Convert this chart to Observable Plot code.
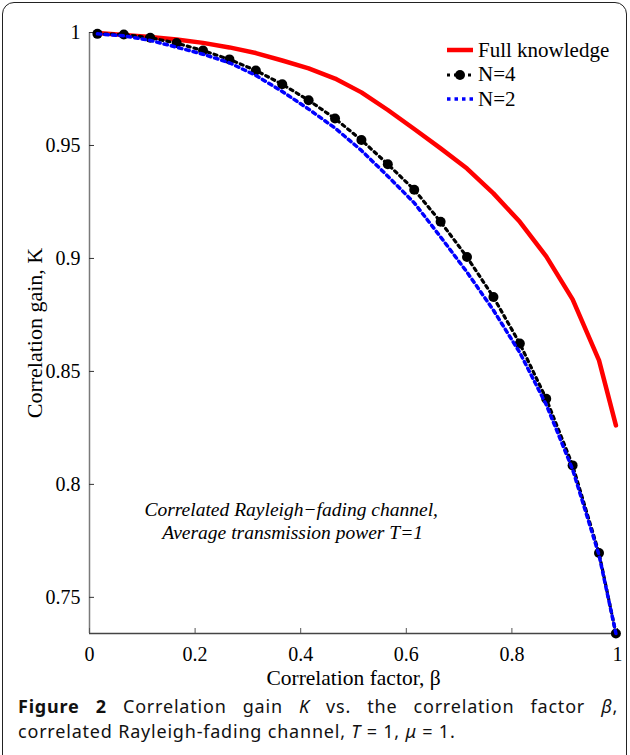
<!DOCTYPE html>
<html><head><meta charset="utf-8">
<script src="https://cdn.jsdelivr.net/npm/d3@7"></script>
<script src="https://cdn.jsdelivr.net/npm/@observablehq/plot@0.6"></script>
<style>
body{margin:0;background:#fff;}
#wrap{position:relative;width:630px;height:755px;overflow:hidden;background:#fff;}
#border{position:absolute;left:2px;top:2px;width:625px;height:770px;border:1.5px solid #222;border-radius:12px;box-sizing:border-box;}
#chart{position:absolute;left:0;top:0;}
#legend{position:absolute;left:447px;top:38px;font-family:"Liberation Serif",serif;font-size:21px;color:#000;}
#legend .row{display:flex;align-items:center;height:24.5px;}
#legend svg{margin-right:5px;}
.cap{position:absolute;left:18px;font-family:"Noto Sans",sans-serif;font-size:18px;letter-spacing:0.8px;color:#111;white-space:nowrap;}
#cap1{top:694px;width:600px;text-align:justify;text-align-last:justify;white-space:normal;}
#cap2{top:719px;}
</style></head>
<body>
<div id="wrap">
  <div id="border"></div>
  <div id="chart"></div>
  <div id="legend"></div>
  <div class="cap" id="cap1"></div>
  <div class="cap" id="cap2"></div>
</div>
<script>
// ---- data ----
const beta = [0.015,0.065,0.115,0.165,0.215,0.265,0.315,0.365,0.415,0.465,0.515,0.565,0.615,0.665,0.715,0.765,0.815,0.865,0.915,0.965,0.997];
const kFull = [0.9998,0.9989,0.9980,0.9969,0.9954,0.9934,0.9909,0.9876,0.9841,0.9796,0.9735,0.9657,0.9573,0.9487,0.9398,0.9288,0.9162,0.9009,0.8819,0.8549,0.8261];
const kN4 = [0.9994,0.9991,0.9977,0.9953,0.9920,0.9881,0.9832,0.9771,0.9700,0.9619,0.9524,0.9417,0.9304,0.9162,0.9006,0.8829,0.8623,0.8379,0.8084,0.7696,0.7340];
const kN2 = [0.9994,0.9985,0.9965,0.9935,0.9904,0.9866,0.9810,0.9739,0.9661,0.9577,0.9478,0.9364,0.9246,0.9095,0.8939,0.8771,0.8583,0.8353,0.8066,0.7687,0.7340];
const seriesNames = ["Full knowledge","N=4","N=2"];
const xTicks = [0,0.2,0.4,0.6,0.8,1];
const xTickLabels = ["0","0.2","0.4","0.6","0.8","1"];
const yTicks = [0.75,0.8,0.85,0.9,0.95,1];
const yTickLabels = ["0.75","0.8","0.85","0.9","0.95","1"];
const xDomain = [0,1];
const yDomain = [0.734,1];
const xLabel = "Correlation factor, β";
const yLabel = "Correlation gain, K";
const noteLines = ["Correlated Rayleigh\u2212fading channel,","Average transmission power T=1"];

const rows = k => beta.map((b,i)=>({beta:b,k:k[i]}));
const full = rows(kFull), n4 = rows(kN4), n2 = rows(kN2);

const serif = "Liberation Serif, Times New Roman, serif";
const chart = Plot.plot({
  width:630, height:690,
  marginLeft:89, marginRight:13, marginTop:32, marginBottom:57,
  style:{fontFamily:serif, fontSize:"20px", background:"transparent", color:"#000", overflow:"visible"},
  x:{domain:xDomain, axis:null},
  y:{domain:yDomain, axis:null},
  marks:[
    Plot.ruleX([xDomain[0]], {stroke:"#7a7a7a", strokeWidth:1.5}),
    Plot.ruleY([yDomain[0]], {stroke:"#444", strokeWidth:1.5}),
    Plot.axisX(xTicks, {anchor:"bottom", tickSize:-5, tickPadding:18, stroke:"#555", tickFormat:(d,i)=>xTickLabels[i], fontSize:20, label:null}),
    Plot.axisY(yTicks, {anchor:"left", tickSize:-5, tickPadding:14, stroke:"#333", tickFormat:(d,i)=>yTickLabels[i], fontSize:20, label:null}),
    Plot.text([xLabel], {frameAnchor:"bottom", dy:45, lineAnchor:"middle", textAnchor:"middle", fontSize:21.5, fill:"#000"}),
    Plot.text([yLabel], {frameAnchor:"left", rotate:-90, dx:-55, lineAnchor:"middle", textAnchor:"middle", fontSize:22, fill:"#000"}),
    Plot.line(full, {x:"beta", y:"k", stroke:"#ff0000", strokeWidth:4.5}),
    Plot.line(n4, {x:"beta", y:"k", stroke:"#000", strokeWidth:3.2, strokeDasharray:"3,4"}),
    Plot.dot(n4, {x:"beta", y:"k", r:5, fill:"#000", stroke:"none"}),
    Plot.line(n2, {x:"beta", y:"k", stroke:"#0000ff", strokeWidth:3.5, strokeDasharray:"3.5,4"}),
    Plot.text([noteLines[0]], {x:0.104, y:0.7889, textAnchor:"start", fontStyle:"italic", fontSize:19.5, fill:"#000"}),
    Plot.text([noteLines[1]], {x:0.138, y:0.7788, textAnchor:"start", fontStyle:"italic", fontSize:19.5, fill:"#000"})
  ]
});
document.getElementById("chart").appendChild(chart);

// legend
const sw = {
  "Full knowledge": '<svg width="26" height="12"><line x1="0" y1="6" x2="26" y2="6" stroke="#ff0000" stroke-width="4.5"/></svg>',
  "N=4": '<svg width="26" height="12"><line x1="0" y1="6" x2="26" y2="6" stroke="#000" stroke-width="3.2" stroke-dasharray="3,4"/><circle cx="13" cy="6" r="5" fill="#000"/></svg>',
  "N=2": '<svg width="26" height="12"><line x1="0" y1="6" x2="26" y2="6" stroke="#0000ff" stroke-width="3.5" stroke-dasharray="3.5,4"/></svg>'
};
document.getElementById("legend").innerHTML = seriesNames.map(n=>`<div class="row">${sw[n]}<span>${n}</span></div>`).join("");

document.getElementById("cap1").innerHTML = '<b>Figure 2</b> Correlation gain <i>K</i> vs. the correlation factor <i>β</i>,';
document.getElementById("cap2").innerHTML = 'correlated Rayleigh-fading channel, <i>T</i> = 1, <i>μ</i> = 1.';
</script>
</body></html>
